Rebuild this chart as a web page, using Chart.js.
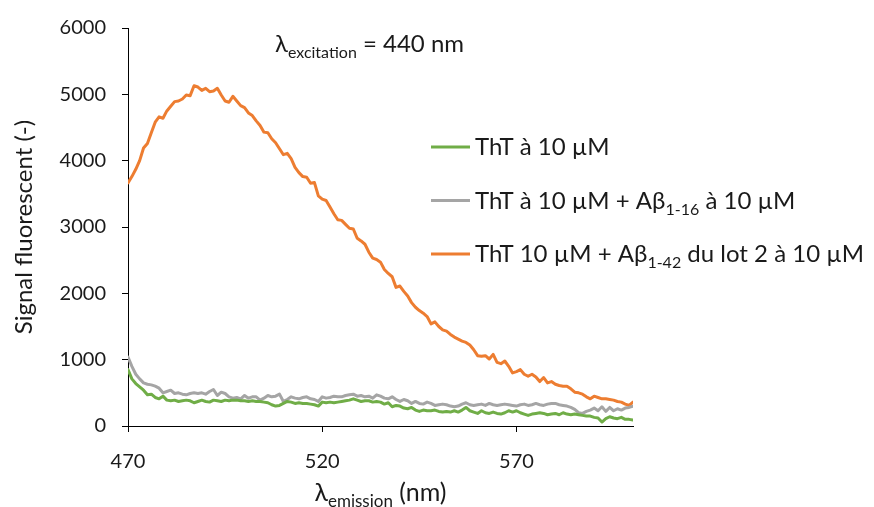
<!DOCTYPE html>
<html>
<head>
<meta charset="utf-8">
<script src="https://cdn.jsdelivr.net/npm/chart.js@4/dist/chart.umd.min.js"></script>
<style>
  body { margin: 0; background: #fff; }
  #wrap { width: 874px; height: 507px; }
</style>
</head>
<body>
<div id="wrap"><canvas id="myChart" width="874" height="507"></canvas></div>
<script>
// emission wavelengths (nm), one reading per nm
var wavelengths = [
  470,471,472,473,474,475,476,477,478,479,480,481,482,483,484,485,486,487,488,489,
  490,491,492,493,494,495,496,497,498,499,500,501,502,503,504,505,506,507,508,509,
  510,511,512,513,514,515,516,517,518,519,520,521,522,523,524,525,526,527,528,529,
  530,531,532,533,534,535,536,537,538,539,540,541,542,543,544,545,546,547,548,549,
  550,551,552,553,554,555,556,557,558,559,560,561,562,563,564,565,566,567,568,569,
  570,571,572,573,574,575,576,577,578,579,580,581,582,583,584,585,586,587,588,589,
  590,591,592,593,594,595,596,597,598,599,600
];

// ThT alone
var thtOnly = [
  850,710,640,590,540,470,480,430,410,450,390,380,390,370,380,390,380,350,370,390,
  370,360,390,380,370,390,380,390,390,380,380,370,380,370,370,360,350,320,300,310,
  340,370,360,340,350,340,340,330,320,300,360,350,360,350,360,370,380,390,410,390,
  370,380,380,360,370,360,330,350,290,310,300,270,260,280,240,220,240,230,230,240,
  220,210,220,210,230,210,240,280,230,210,190,230,200,190,210,190,180,200,230,210,
  230,200,180,160,180,190,200,190,170,180,190,170,200,180,170,180,170,160,150,150,
  130,120,60,110,140,120,110,130,100,100,90
];

// ThT + Abeta 1-16
var thtAb16 = [
  1040,900,780,710,650,630,620,600,570,500,520,540,490,500,480,470,490,500,490,500,
  480,520,550,460,510,490,440,420,430,410,460,420,440,440,390,420,460,440,450,480,
  370,400,440,420,410,430,440,410,400,370,440,420,430,450,440,440,460,470,480,450,
  460,440,450,420,470,450,420,410,440,400,370,400,380,340,370,340,330,360,340,310,
  320,330,320,300,290,300,330,350,320,310,320,330,310,340,320,310,320,330,320,310,
  300,320,330,310,320,340,320,310,330,340,340,320,310,300,280,250,200,190,220,240,
  270,230,290,220,280,230,260,240,270,280,300
];

// ThT + Abeta 1-42 (lot 2)
var thtAb42 = [
  3665,3760,3870,4000,4190,4260,4420,4580,4660,4640,4750,4820,4890,4900,4930,4990,4980,5130,5110,5060,
  5090,5040,5050,5090,4990,4900,4880,4970,4900,4830,4800,4720,4680,4600,4530,4430,4420,4330,4270,4180,
  4090,4110,4030,3900,3820,3760,3750,3660,3670,3470,3420,3400,3300,3200,3110,3100,3040,2980,2970,2830,
  2790,2740,2620,2530,2510,2470,2360,2300,2250,2090,2110,2030,1960,1860,1790,1740,1700,1650,1540,1570,
  1500,1450,1430,1380,1340,1310,1280,1260,1220,1150,1060,1050,1060,1010,1080,960,940,980,900,800,
  820,850,780,750,780,740,670,730,650,670,630,610,600,600,560,510,500,480,440,410,
  450,430,410,410,400,390,370,360,330,310,360
];

var xTicks = [470, 520, 570];

// label pieces: [text, isSubscript]
var legendParts = [
  [["ThT à 10 µM", false]],
  [["ThT à 10 µM + Aβ", false], ["1-16", true], [" à 10 µM", false]],
  [["ThT 10 µM + Aβ", false], ["1-42", true], [" du lot 2 à 10 µM", false]]
];
var xTitleParts = [["λ", false], ["emission", true], [" (nm)", false]];
var noteParts = [["λ", false], ["excitation", true], [" = 440 nm", false]];

var FONT = "Lato, 'Open Sans', sans-serif";
var TEXT = "#1a1a1a";

function pts(ys) {
  return ys.map(function (y, i) { return { x: wavelengths[i], y: y }; });
}

function richWidth(ctx, parts, size) {
  var w = 0;
  parts.forEach(function (p) {
    ctx.font = (p[1] ? Math.round(size * 0.68) : size) + "px " + FONT;
    w += ctx.measureText(p[0]).width;
  });
  return w;
}

function drawRich(ctx, parts, x, y, size) {
  var cx = x;
  parts.forEach(function (p) {
    ctx.font = (p[1] ? Math.round(size * 0.68) : size) + "px " + FONT;
    ctx.fillText(p[0], cx, p[1] ? y + size * 0.25 : y);
    cx += ctx.measureText(p[0]).width;
  });
}

var extraText = {
  id: "extraText",
  afterDraw: function (chart) {
    var ctx = chart.ctx;
    var area = chart.chartArea;
    ctx.save();
    ctx.fillStyle = TEXT;
    ctx.textBaseline = "alphabetic";
    ctx.textAlign = "left";

    // excitation note
    drawRich(ctx, noteParts, area.left + 147, area.top + 24, 24);

    // x axis title
    var w = richWidth(ctx, xTitleParts, 25);
    drawRich(ctx, xTitleParts, (area.left + area.right) / 2 - w / 2, 501, 25);

    // legend
    chart.data.datasets.forEach(function (ds, i) {
      var y = area.top + 119 + i * 53.5;
      ctx.strokeStyle = ds.borderColor;
      ctx.lineWidth = 3;
      ctx.beginPath();
      ctx.moveTo(area.left + 303, y);
      ctx.lineTo(area.left + 342, y);
      ctx.stroke();
      drawRich(ctx, legendParts[i], area.left + 347, y + 8, 24);
    });
    ctx.restore();
  }
};

var ctx = document.getElementById("myChart");
new Chart(ctx, {
  type: "line",
  data: {
    datasets: [
      { label: "ThT à 10 µM", data: pts(thtOnly), borderColor: "#70AD47" },
      { label: "ThT à 10 µM + Aβ1-16 à 10 µM", data: pts(thtAb16), borderColor: "#A5A5A5" },
      { label: "ThT 10 µM + Aβ1-42 du lot 2 à 10 µM", data: pts(thtAb42), borderColor: "#ED7D31" }
    ]
  },
  options: {
    responsive: false,
    animation: false,
    elements: {
      line: { borderWidth: 3, tension: 0, borderJoinStyle: "round", borderCapStyle: "round" },
      point: { radius: 0 }
    },
    layout: { padding: { left: 10, right: 241, top: 25, bottom: 0 } },
    plugins: {
      legend: { display: false },
      tooltip: { enabled: false }
    },
    scales: {
      x: {
        type: "linear",
        min: 470,
        max: 600,
        afterBuildTicks: function (scale) {
          scale.ticks = xTicks.map(function (v) { return { value: v }; });
        },
        afterFit: function (scale) { scale.height = 81; },
        grid: { display: true, drawOnChartArea: false, drawTicks: true, tickLength: 6, color: "#000" },
        border: { display: true, color: "#000", width: 1 },
        ticks: { font: { family: FONT, size: 20 }, color: TEXT, padding: 18, maxRotation: 0,
          callback: function (v) { return String(v); } }
      },
      y: {
        min: 0,
        max: 6000,
        afterFit: function (scale) { scale.width = 118; },
        grid: { display: true, drawOnChartArea: false, drawTicks: true, tickLength: 6, color: "#000" },
        border: { display: true, color: "#000", width: 1 },
        ticks: { stepSize: 1000, font: { family: FONT, size: 20 }, color: TEXT, padding: 16,
          callback: function (v) { return String(v); } },
        title: {
          display: true,
          text: "Signal fluorescent (-)",
          font: { family: FONT, size: 24 },
          color: TEXT,
          padding: { top: 0, bottom: 0 }
        }
      }
    }
  },
  plugins: [extraText]
});
</script>
</body>
</html>
